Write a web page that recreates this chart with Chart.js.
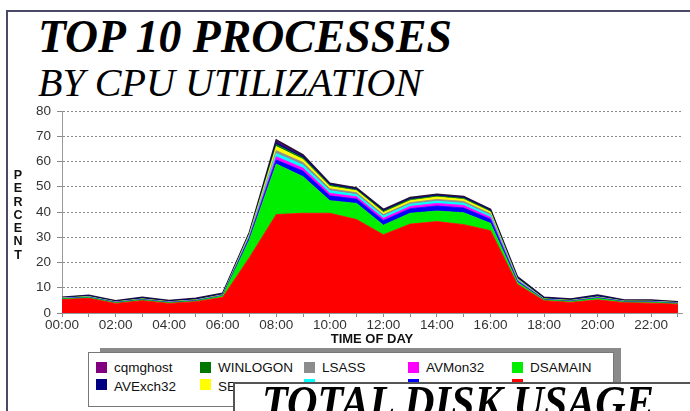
<!DOCTYPE html>
<html><head><meta charset="utf-8">
<script src="https://cdn.jsdelivr.net/npm/chart.js@4/dist/chart.umd.min.js"></script>
<style>
html,body{margin:0;padding:0;background:#fff;width:690px;height:411px;overflow:hidden;}
body{position:relative;font-family:"Liberation Sans",Arial,sans-serif;}
#frame{position:absolute;left:6px;top:10px;width:720px;height:440px;border-left:2px solid #4a4a66;border-top:2px solid #4a4a66;}
#cv{position:absolute;left:0;top:0;}
.ttl{position:absolute;font-family:"Liberation Serif","Times New Roman",serif;white-space:nowrap;transform-origin:0 0;color:#000;line-height:1;}
#pct{position:absolute;left:11px;top:169px;width:14px;text-align:center;font-weight:bold;font-size:12.5px;line-height:13.3px;color:#111;}
#xt{position:absolute;left:0;width:744px;top:331px;text-align:center;font-weight:bold;font-size:13px;color:#111;}
#lshadow{position:absolute;left:100px;top:348px;width:521px;height:52px;background:#8a8a8a;}
#lbox{position:absolute;left:88px;top:352px;width:524px;height:53px;background:#fff;border:1px solid #777;}
.li{position:absolute;font-size:13.5px;color:#111;white-space:nowrap;line-height:14px;}
.sw{position:absolute;width:11px;height:11px;}
#over{position:absolute;left:233px;top:382px;width:500px;height:60px;background:#fff;border-left:2px solid #555;border-top:2px solid #555;}
</style></head>
<body>
<div id="frame"></div>
<div class="ttl" id="t1" style="left:38px;top:14px;font-size:46px;font-weight:bold;font-style:italic;">TOP 10 PROCESSES</div>
<div class="ttl" id="t2" style="left:38px;top:63px;font-size:40px;font-style:italic;">BY CPU UTILIZATION</div>
<canvas id="cv" width="690" height="411"></canvas>
<div id="pct">P<br>E<br>R<br>C<br>E<br>N<br>T</div>
<div id="xt">TIME OF DAY</div>
<div id="lshadow"></div>
<div id="lbox"></div>
<div id="over"><div class="ttl" id="t3" style="left:27px;top:-4px;font-size:46px;font-weight:bold;font-style:italic;">TOTAL DISK USAGE</div></div>
<script>
// ---- data (hourly samples, percent CPU) ----
const hours = [0,1,2,3,4,5,6,7,8,9,10,11,12,13,14,15,16,17,18,19,20,21,22,23];
const tickLabels = ['00:00','02:00','04:00','06:00','08:00','10:00','12:00','14:00','16:00','18:00','20:00','22:00'];
const yTicks = [0,10,20,30,40,50,60,70,80];

// series, bottom of stack first
const STORE    = [5.3,5.8,3.8,4.9,3.8,4.5,6.2,22,39,39.5,39.5,37,31,35.2,36.2,35,32.6,11.4,4.9,4.2,5.2,4.1,3.9,3.5];
const DSAMAIN  = [0.3,0.3,0.3,0.3,0.3,0.3,0.6,7,20,14.5,5,6.4,3.8,4.3,4.2,4.7,2.9,0.8,0.3,0.4,0.6,0.3,0.4,0.3];
const SYSTEM   = [0.1,0.1,0.1,0.1,0.1,0.1,0.1,0.8,1.6,2.2,1.9,1.7,1.8,1.8,2.0,1.9,1.6,0.4,0.1,0.1,0.2,0.1,0.1,0.1];
const AVMon32  = [0.05,0.05,0.05,0.05,0.05,0.05,0.1,0.4,1.3,1.2,1.0,0.9,0.9,0.9,1.0,1.0,0.8,0.3,0.05,0.05,0.1,0.05,0.05,0.05];
const SVCHOST  = [0.05,0.05,0.05,0.05,0.05,0.05,0.05,0.4,1.3,1.2,1.0,0.9,0.9,0.9,0.9,0.9,0.8,0.3,0.05,0.05,0.05,0.05,0.05,0.05];
const LSASS    = [0.05,0.1,0.05,0.1,0.1,0.1,0.1,0.3,1.1,1.0,0.8,0.7,0.6,0.6,0.7,0.7,0.6,0.2,0.1,0.1,0.1,0.05,0.1,0.05];
const SERVICES = [0.05,0.05,0.05,0.05,0.05,0.05,0.05,0.4,1.6,1.2,0.9,0.8,0.8,0.8,0.9,0.8,0.7,0.2,0.05,0.05,0.05,0.05,0.05,0.05];
const WINLOGON = [0.1,0.15,0.1,0.15,0.1,0.15,0.15,0.2,0.8,0.6,0.5,0.4,0.5,0.5,0.4,0.4,0.4,0.2,0.15,0.15,0.2,0.1,0.1,0.1];
const AVExch32 = [0.15,0.3,0.2,0.35,0.25,0.35,0.3,0.3,0.9,0.7,0.5,0.4,0.4,0.4,0.4,0.4,0.4,0.4,0.35,0.3,0.45,0.2,0.25,0.15];
const cqmghost = [0.1,0.15,0.1,0.15,0.1,0.15,0.15,0.2,0.9,0.5,0.3,0.3,0.3,0.3,0.3,0.3,0.3,0.2,0.15,0.15,0.2,0.1,0.1,0.1];

const seriesNames  = ['STORE','DSAMAIN','SYSTEM','AVMon32','SVCHOST','LSASS','SERVICES','WINLOGON','AVExch32','cqmghost'];
const seriesValues = [STORE,DSAMAIN,SYSTEM,AVMon32,SVCHOST,LSASS,SERVICES,WINLOGON,AVExch32,cqmghost];
const seriesColors = ['#ff0000','#00ee00','#0000ff','#ff00ff','#00ffff','#8c8c8c','#ffff00','#007800','#000080','#800080'];

const datasets = seriesValues.map((vals, i) => ({
  label: seriesNames[i],
  data: vals.map((v, k) => ({x: hours[k], y: v})),
  backgroundColor: seriesColors[i],
  borderColor: i === seriesValues.length - 1 ? '#2a1030' : seriesColors[i],
  borderWidth: i === seriesValues.length - 1 ? 1.6 : 0.8,
  fill: i === 0 ? 'origin' : '-1',
  pointRadius: 0,
  tension: 0
}));

new Chart(document.getElementById('cv'), {
  type: 'line',
  data: {datasets},
  options: {
    responsive: false, animation: false, devicePixelRatio: 1,
    layout: {padding: {top: 111, right: 8, left: 0, bottom: 0}},
    plugins: {legend: {display: false}, tooltip: {enabled: false}},
    scales: {
      x: {
        type: 'linear', min: 0, max: 23.15,
        afterFit: s => { s.height = 98; },
        afterBuildTicks: s => { s.ticks = hours.map(h => ({value: h})); },
        ticks: {
          autoSkip: false, maxRotation: 0, padding: 0, color: '#333',
          font: {family: '"Liberation Sans", Arial, sans-serif', size: 13.5},
          callback: (v) => { const i = tickLabels.findIndex(t => parseInt(t, 10) === v); return (v % 2 === 0 && i >= 0) ? tickLabels[i] : ''; }
        },
        grid: {display: true, drawOnChartArea: false, drawTicks: true, tickLength: 4, tickColor: '#8a8a8a', tickWidth: 1},
        border: {display: true, color: '#999', width: 1}
      },
      y: {
        stacked: true, min: 0, max: 80,
        afterFit: s => { s.width = 62; },
        afterBuildTicks: s => { s.ticks = yTicks.map(v => ({value: v})); },
        ticks: {padding: 6, color: '#333', font: {family: '"Liberation Sans", Arial, sans-serif', size: 13.5}},
        grid: {color: '#8a8a8a', lineWidth: 1, tickLength: 5, tickColor: '#8a8a8a', tickBorderDash: []},
        border: {display: true, color: '#999', width: 1, dash: [2, 2]}
      }
    }
  }
});

// legend: listed top of stack first, column-major in two rows
const colX = [96, 200, 304, 408, 512];
const swY = [362, 379];
const txY = [361, 380];
const order = seriesNames.map((n, i) => i).reverse();
const over = document.getElementById('over');
order.forEach((si, k) => {
  const col = Math.floor(k / 2), row = k % 2;
  const sw = document.createElement('div');
  sw.className = 'sw';
  sw.style.left = colX[col] + 'px';
  sw.style.top = swY[row] + 'px';
  sw.style.background = seriesColors[si];
  const tx = document.createElement('div');
  tx.className = 'li';
  tx.style.left = (colX[col] + 18) + 'px';
  tx.style.top = txY[row] + 'px';
  tx.textContent = seriesNames[si];
  document.body.insertBefore(sw, over);
  document.body.insertBefore(tx, over);
});

// fit headline widths
function fit(id, w) {
  const el = document.getElementById(id);
  el.style.display = 'inline-block';
  const cur = el.getBoundingClientRect().width;
  el.style.transform = 'scaleX(' + (w / cur) + ')';
}
fit('t1', 414); fit('t2', 384); fit('t3', 392);
</script>
</body></html>
